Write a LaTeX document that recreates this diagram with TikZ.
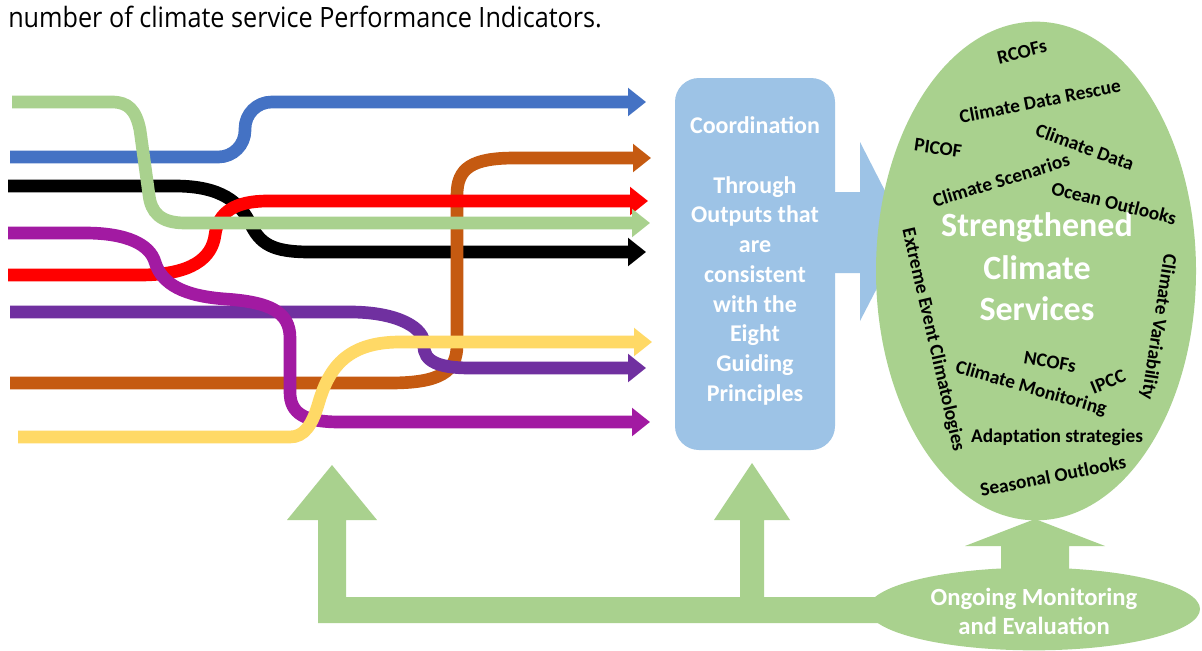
\documentclass[tikz,border=0pt]{standalone}
\usepackage{fontspec}
\setmainfont{Carlito}
\newfontfamily\capfont{Open Sans}
\usetikzlibrary{arrows.meta,shapes.geometric}
\definecolor{cblue}{HTML}{4472C4}
\definecolor{cgreen}{HTML}{A9D18E}
\definecolor{cred}{HTML}{FF0000}
\definecolor{cmag}{HTML}{A21AA2}
\definecolor{cpur}{HTML}{7030A0}
\definecolor{corg}{HTML}{C55A11}
\definecolor{cyel}{HTML}{FFD966}
\definecolor{cbox}{HTML}{9DC3E6}
\definecolor{cell}{HTML}{A9D18E}
\begin{document}
\begin{tikzpicture}[x=0.75pt,y=-0.75pt,
  flow/.style={line width=9.5pt,-{Triangle[length=13.5pt,width=20.5pt]}},
  itm/.style={font=\fontsize{14.5}{17}\selectfont\bfseries, inner sep=0pt, text=black},
  big/.style={font=\fontsize{25.5}{30.75}\selectfont\bfseries, text=white, align=center, inner sep=0pt},
  boxtxt/.style={font=\fontsize{18}{22.3}\selectfont\bfseries, text=white, align=center}]
\useasboundingbox (0,0) rectangle (1202,650);
\fill[white] (0,0) rectangle (1202,650);

% caption
\node[anchor=base west, inner sep=0pt, font=\capfont\fontsize{21}{24}\selectfont] (cap) at (8,27)
  {\scalebox{0.9}[1]{number of climate service Performance Indicators.}};

% start / end coordinates
\coordinate (sB) at (10,157);  \coordinate (eB) at (646,102);
\coordinate (sK) at (8,186);   \coordinate (eK) at (646,252);
\coordinate (sO) at (10,383);  \coordinate (eO) at (651,158);
\coordinate (sR) at (8,275);   \coordinate (eR) at (648,201);
\coordinate (sG) at (12,102);  \coordinate (eG) at (650,223);
\coordinate (sP) at (10,312);  \coordinate (eP) at (646,368);
\coordinate (sM) at (8,233);   \coordinate (eM) at (650,422);
\coordinate (sY) at (18,437);  \coordinate (eY) at (652,342);

% flows (bottom to top)
\draw[flow, cblue, rounded corners=20pt] (sB) -- (245,157) -- (245,102) -- (eB);
\draw[flow, black] (sK) -- (175,186) .. controls (222,186) and (240,203) .. (250,223)
  .. controls (260,244) and (272,252) .. (310,252) -- (eK);
\draw[flow, corg] (sO) -- (390,383) .. controls (440,383) and (457,372) .. (457,345)
  -- (457,195) .. controls (457,168) and (472,158) .. (515,158) -- (eO);
\draw[flow, cred] (sR) -- (140,275) .. controls (192,275) and (212,258) .. (215,235)
  .. controls (218,212) and (235,201) .. (268,201) -- (eR);
\draw[flow, cgreen] (sG) -- (112,102) .. controls (128,102) and (136,110) .. (140,130)
  -- (149,195) .. controls (151,212) and (160,223) .. (185,223) -- (eG);
\draw[flow, cpur] (sP) -- (350,312) .. controls (398,312) and (425,328) .. (424,345)
  .. controls (423,362) and (440,368) .. (470,368) -- (eP);
\draw[flow, cmag] (sM) -- (85,233) .. controls (128,233) and (150,245) .. (155,262)
  .. controls (162,285) and (185,296) .. (225,299) .. controls (270,302) and (290,312) .. (290,338)
  -- (290,392) .. controls (290,414) and (305,422) .. (340,422) -- (eM);
\draw[flow, cyel] (sY) -- (290,437) .. controls (304,437) and (312,425) .. (318,405)
  .. controls (328,370) and (345,342) .. (400,342) -- (eY);

% coordination box
\node[fill=cbox, rounded corners=18pt, minimum width=120pt, minimum height=279pt, inner sep=0pt] (box) at (755,264) {};
\node[boxtxt] (boxt) at (755,261) {Coordination\\[22.3pt]Through\\Outputs that\\are\\consistent\\with the\\Eight\\Guiding\\Principles};
\fill[cbox] (828,192) -- (860,192) -- (860,142) -- (906,232) -- (860,321) -- (860,273) -- (828,273) -- cycle;

% big ellipse
\node[ellipse, fill=cell, minimum width=240pt, minimum height=374pt, inner sep=0pt] (cs) at (1036,271) {};

% up arrow into big ellipse
\fill[cell] (1001,585) -- (1001,546) -- (965,546) -- (1035,519) -- (1105,546) -- (1069,546) -- (1069,585) -- cycle;

% L-shaped feedback arrow
\fill[cell] (905,623) -- (318,623) -- (318,520) -- (287,520) -- (332,465) -- (377,520) -- (346,520)
  -- (346,597) -- (740,597) -- (740,520) -- (714,520) -- (752,463) -- (790,520) -- (764,520)
  -- (764,597) -- (905,597) -- cycle;

% small ellipse
\node[ellipse, fill=cell, minimum width=249pt, minimum height=62pt, inner sep=0pt] (om) at (1034,609) {};
\node[font=\fontsize{18.5}{21.75}\selectfont\bfseries, text=white, align=center, inner sep=0pt] (omt) at (1034,611) {Ongoing Monitoring\\and Evaluation};

% texts in big ellipse
\node[big] (st1) at (1037,227) {Strengthened};
\node[big] (st2) at (1037,268) {Climate};
\node[big] (st3) at (1037,309) {Services};
\node[itm, rotate=14] (t1) at (1022,52) {RCOFs};
\node[itm, rotate=11] (t2) at (1040,101) {Climate Data Rescue};
\node[itm, rotate=-8] (t3) at (938,148) {PICOF};
\node[itm, rotate=-20] (t4) at (1085,147) {Climate Data};
\node[itm, rotate=17] (t5) at (1001,180) {Climate Scenarios};
\node[itm, rotate=-14] (t6) at (1114,203) {Ocean Outlooks};
\node[itm, rotate=-77] (t7) at (933,340) {Extreme Event Climatologies};
\node[itm, rotate=-99] (t8) at (1158,327) {Climate Variability};
\node[itm, rotate=-10] (t9) at (1050,362) {NCOFs};
\node[itm, rotate=-16] (t10) at (1031,389) {Climate Monitoring};
\node[itm, rotate=22] (t11) at (1108,382) {IPCC};
\node[itm] (t12) at (1057,437) {Adaptation strategies};
\node[itm, rotate=11] (t13) at (1053,476) {Seasonal Outlooks};
\end{tikzpicture}
\end{document}
